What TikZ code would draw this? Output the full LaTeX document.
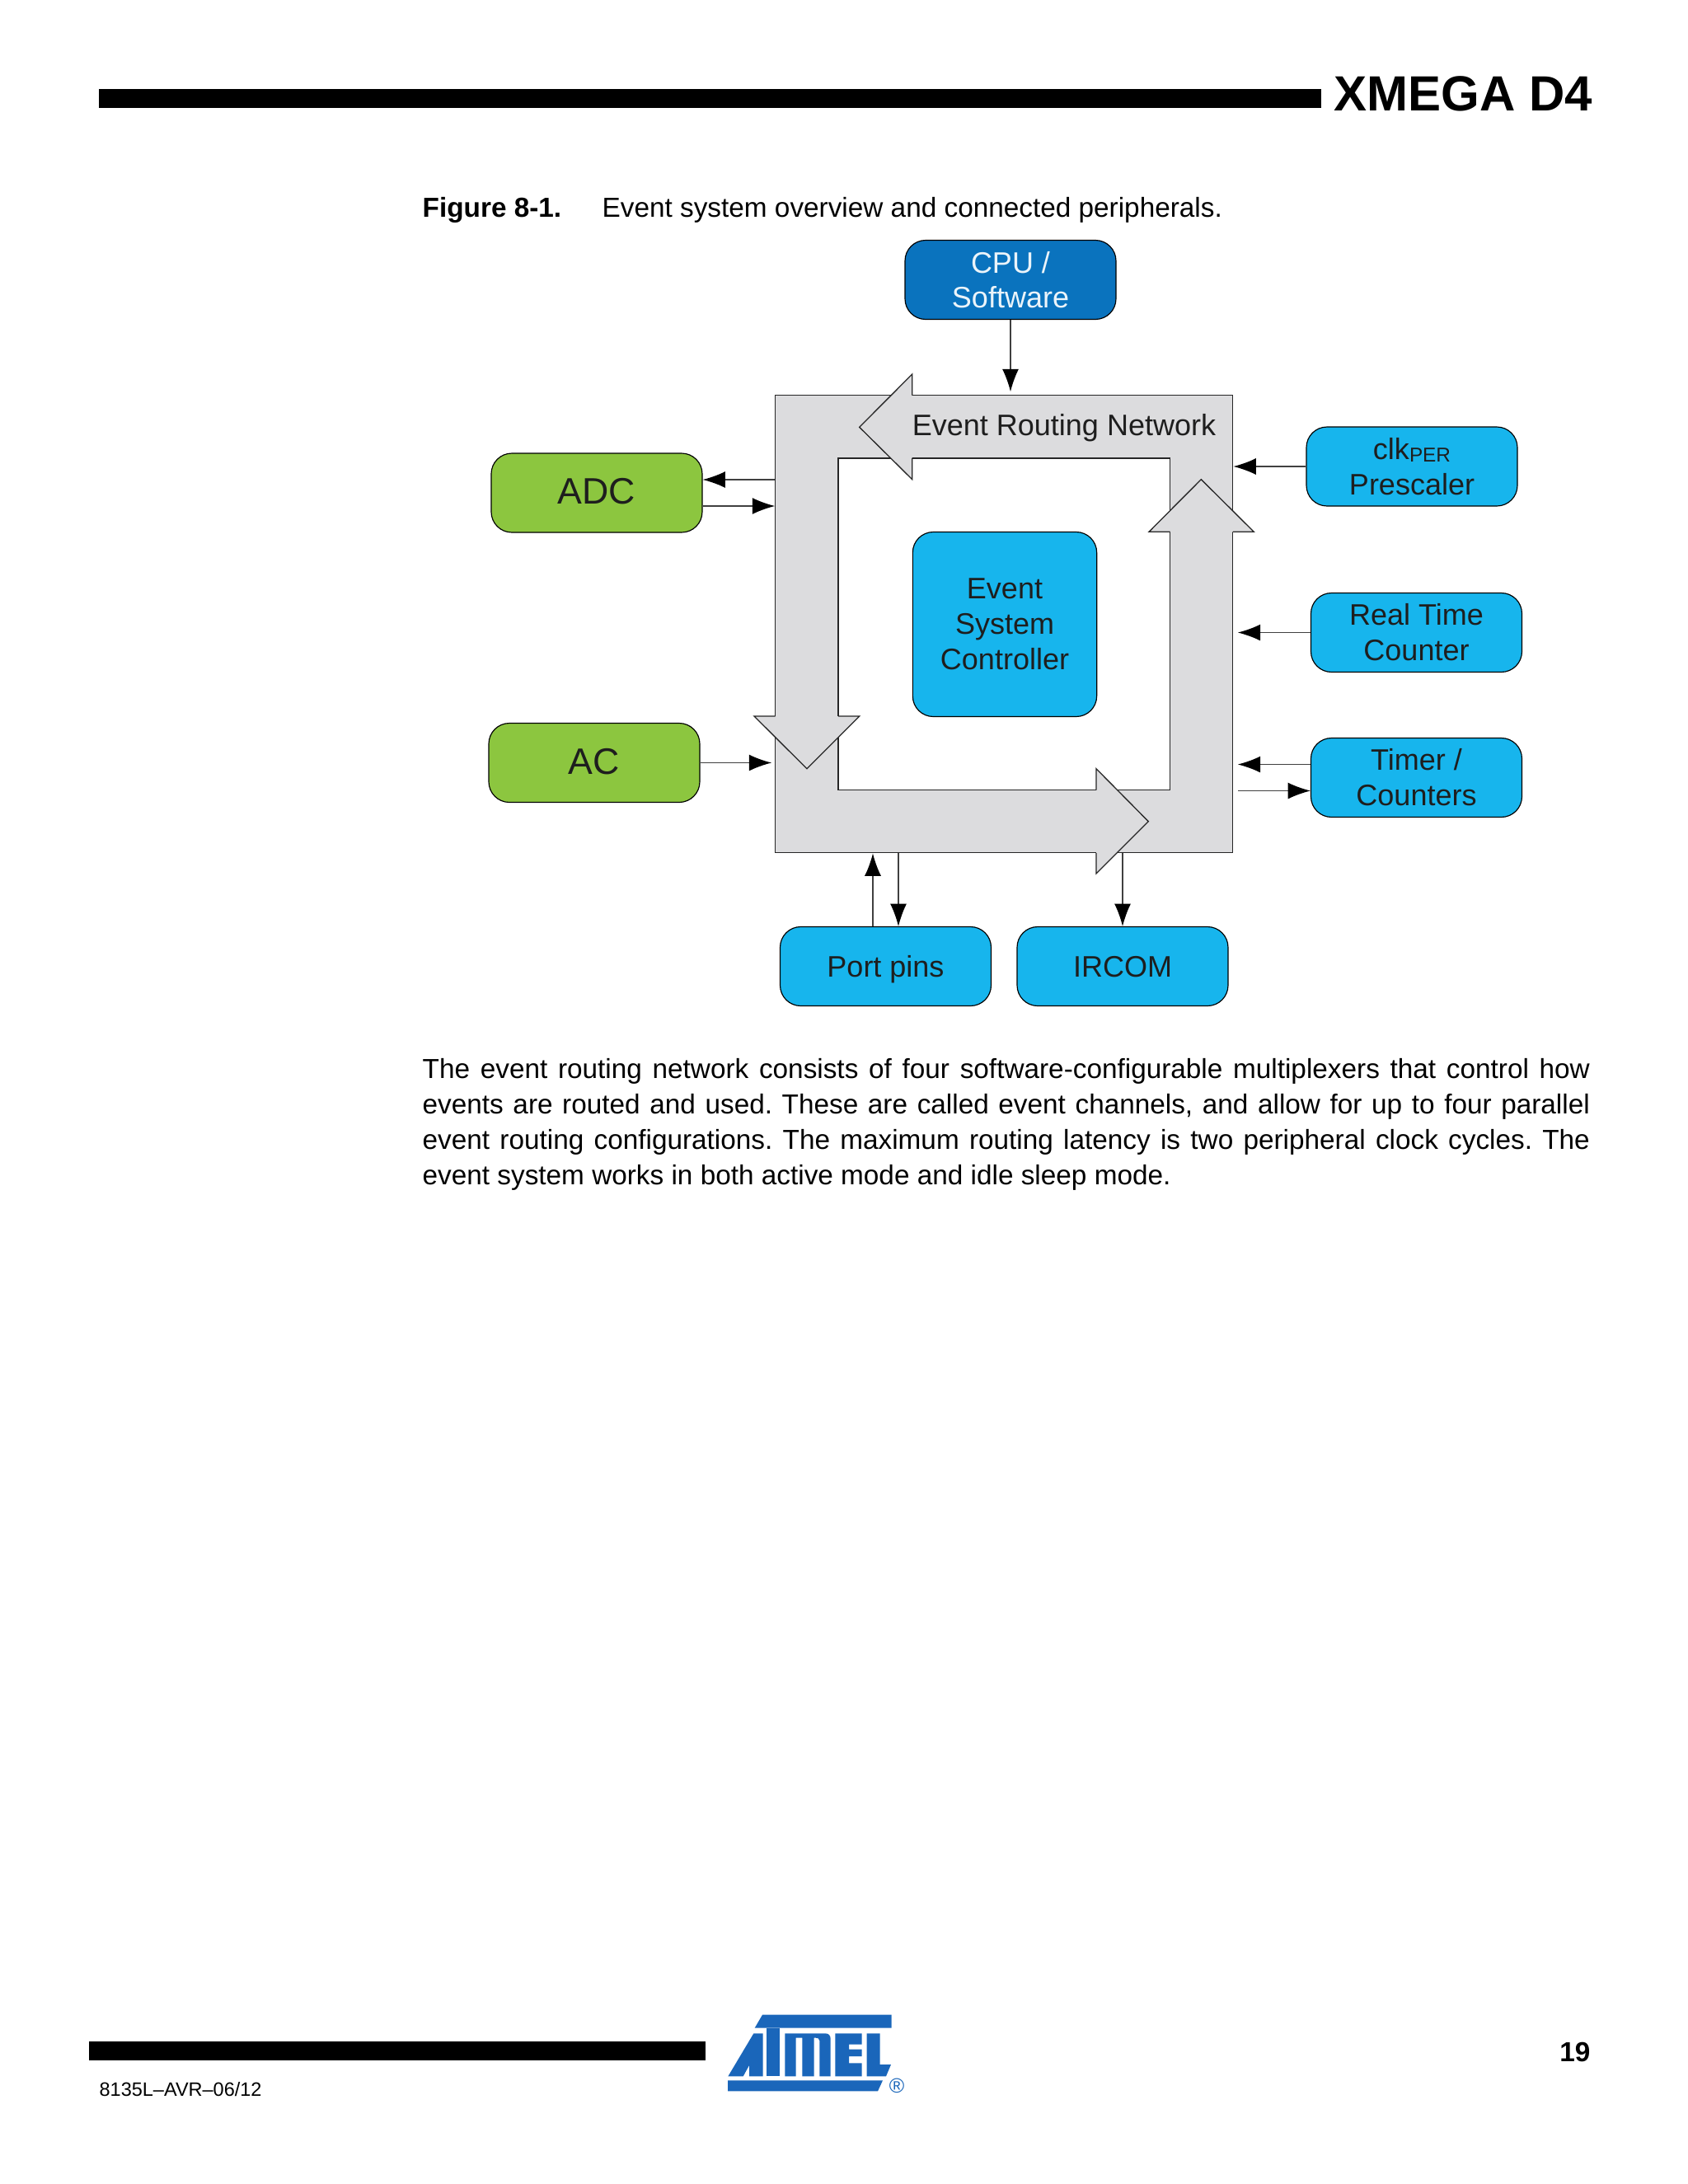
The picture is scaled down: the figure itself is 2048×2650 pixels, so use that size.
\documentclass[tikz,border=0pt]{standalone}
\usepackage{fontspec}
\setmainfont{Liberation Sans}
\usetikzlibrary{arrows.meta}
\definecolor{cyanbox}{HTML}{17B5ED}
\definecolor{cpubox}{HTML}{0A73BE}
\definecolor{greenbox}{HTML}{8CC63F}
\definecolor{ringgray}{HTML}{DCDCDE}
\definecolor{atmelblue}{HTML}{1A66BA}
\definecolor{inktext}{HTML}{1E1E1E}
\tikzset{
  blockbox/.style={draw=black,line width=0.35pt,rounded corners=7.5pt,minimum width=76.8pt,minimum height=28.8pt,inner sep=0pt,align=center,text=inktext,font=\fontsize{10.8}{12.9}\selectfont},
  cyanblock/.style={blockbox,fill=cyanbox},
  cpublock/.style={blockbox,fill=cpubox,text=white!92!cpubox},
  greenblock/.style={blockbox,fill=greenbox,font=\fontsize{13.4}{16}\selectfont,text height=9.6pt,text depth=1.5pt},
  conn/.style={draw=black!75,line width=0.4pt,-{Latex[length=8.2pt,width=6pt,black]}},
  ringline/.style={draw=black!85,line width=0.4pt},
  pagetext/.style={anchor=base west,inner sep=0pt,font=\fontsize{10}{13}\selectfont},
}
\newlength{\bodyw}\setlength{\bodyw}{424.9pt}
\frenchspacing
\begin{document}
\begin{tikzpicture}[x=0.3pt,y=-0.3pt]
\useasboundingbox (0,0) rectangle (2048,2650);
\fill[white] (0,0) rectangle (2048,2650);
% page furniture
\fill[black] (120,108) rectangle (1603,131);
\node[pagetext,anchor=base east,font=\fontsize{18}{22}\selectfont\bfseries] (title) at (1933,134) {XMEGA D4};
\node[pagetext,font=\fontsize{10}{13}\selectfont\bfseries] (figlabel) at (512,263) {Figure 8-1.};
\node[pagetext] (figcap) at (730,263) {Event system overview and connected peripherals.};
\node[pagetext] (l1) at (512,1308) {\makebox[\bodyw][s]{\frenchspacing The event routing network consists of four software-configurable multiplexers that control how}};
\node[pagetext] (l2) at (512,1351) {\makebox[\bodyw][s]{\frenchspacing events are routed and used. These are called event channels, and allow for up to four parallel}};
\node[pagetext] (l3) at (512,1394) {\makebox[\bodyw][s]{\frenchspacing event routing configurations. The maximum routing latency is two peripheral clock cycles. The}};
\node[pagetext] (l4) at (512,1437) {event system works in both active mode and idle sleep mode.};
\fill[black] (108,2477) rectangle (856,2500);
\node[pagetext,font=\fontsize{7.05}{9}\selectfont] (docno) at (120,2543) {8135L–AVR–06/12};
\node[pagetext,anchor=base east,font=\fontsize{10}{12}\selectfont\bfseries] (pageno) at (1930,2501) {19};
% Atmel logo
\begin{scope}[shift={(875,2440)},x=0.1pt,y=-0.1pt]
\fill[atmelblue] (150,14) -- (620,14) -- (620,62) -- (122,62) -- cycle;
\fill[atmelblue] (24,253) -- (588,253) -- (570,292) -- (24,292) -- cycle;
\fill[atmelblue] (25,238) -- (118,82) -- (152,82) -- (152,238) -- (102,238) -- (102,198) -- (80,238) -- cycle;
\fill[atmelblue] (165,62) rectangle (213,238);
\fill[atmelblue] (232,238) -- (232,82) -- (380,82) .. controls (392,82) and (398,90) .. (398,102) -- (398,238) -- (358,238) -- (358,108) .. controls (358,100) and (350,98) .. (345,98) -- (338,98) -- (338,238) -- (295,238) -- (295,98) -- (272,98) -- (272,238) -- cycle;
\fill[atmelblue] (415,82) -- (512,82) -- (512,122) -- (465,122) -- (465,140) -- (512,140) -- (512,165) -- (465,165) -- (465,190) -- (512,190) -- (512,238) -- (415,238) -- cycle;
\fill[atmelblue] (530,82) -- (578,82) -- (578,195) -- (618,195) -- (600,238) -- (530,238) -- cycle;
\end{scope}
\node[inner sep=0pt,text=atmelblue,font=\fontsize{7.5}{8}\selectfont] (reg) at (1088,2531) {®};
% routing ring
\node[ringline,fill=ringgray,minimum width=166.5pt,minimum height=166.5pt,inner sep=0pt] (ern) at (1218.3,757.3) {};
\node[ringline,fill=white,minimum width=120.8pt,minimum height=120.8pt,inner sep=0pt] (hole) at (1218.3,757.3) {};
% arrow heads
\path[fill=ringgray] (1106.7,454) -- (1042.7,518.3) -- (1106.7,581.7) -- cycle;
\draw[ringline] (1106.7,479.7) -- (1106.7,454) -- (1042.7,518.3) -- (1106.7,581.7) -- (1106.7,556);
\path[fill=ringgray] (915,869) -- (979,932.7) -- (1042.7,869) -- cycle;
\draw[ringline] (940.7,869) -- (915,869) -- (979,932.7) -- (1042.7,869) -- (1017,869);
\path[fill=ringgray] (1330,932.7) -- (1393.3,996.7) -- (1330,1060) -- cycle;
\draw[ringline] (1330,958.7) -- (1330,932.7) -- (1393.3,996.7) -- (1330,1060) -- (1330,1035);
\path[fill=ringgray] (1394,645.3) -- (1457.3,581.7) -- (1521.3,645.3) -- cycle;
\draw[ringline] (1419.7,645.3) -- (1394,645.3) -- (1457.3,581.7) -- (1521.3,645.3) -- (1496,645.3);
\node[inner sep=0pt,font=\fontsize{10.8}{13}\selectfont,text=inktext] (ernlabel) at (1291,519) {Event Routing Network};
% blocks
\node[cpublock] (cpu) at (1226,339.5) {CPU /\\[-0.2pt]Software};
\node[greenblock] (adc) at (724,598) {ADC};
\node[greenblock] (ac) at (721,925.5) {AC};
\node[cyanblock] (clk) at (1713,566) {clk{\fontsize{7.3}{9}\selectfont\raisebox{-0.25ex}{PER}}\\Prescaler};
\node[cyanblock] (rtc) at (1718.5,767.5) {Real Time\\Counter};
\node[cyanblock] (timer) at (1718.5,943.5) {Timer /\\Counters};
\node[cyanblock,text height=7.8pt,text depth=0pt] (port) at (1074.5,1172.5) {Port pins};
\node[cyanblock,text height=7.8pt,text depth=0pt] (ircom) at (1362,1172.5) {IRCOM};
\node[cyanblock,minimum width=67pt,minimum height=67.2pt] (esc) at (1219,757.5) {Event\\System\\Controller};
% connectors
\draw[conn,shorten >=1.2pt] (cpu.south) -- (cpu.south |- ern.north);
\draw[conn] (ern.west |- 0,582) -- (adc.east |- 0,582);
\draw[conn] (adc.east |- 0,614) -- (ern.west |- 0,614);
\draw[conn,shorten >=1.2pt] (ac.east) -- (ern.west |- ac.east);
\draw[conn] (clk.west) -- (ern.east |- clk.west);
\draw[conn,shorten >=1.6pt] (rtc.west) -- (ern.east |- rtc.west);
\draw[conn,shorten >=1.6pt] (timer.west |- 0,927.5) -- (ern.east |- 0,927.5);
\draw[conn,shorten <=1.8pt] (ern.east |- 0,959.5) -- (timer.west |- 0,959.5);
\draw[conn] (port.north -| 1059,0) -- (ern.south -| 1059,0);
\draw[conn] (ern.south -| 1090,0) -- (port.north -| 1090,0);
\draw[conn] (ern.south -| ircom.north) -- (ircom.north);
\end{tikzpicture}
\end{document}
